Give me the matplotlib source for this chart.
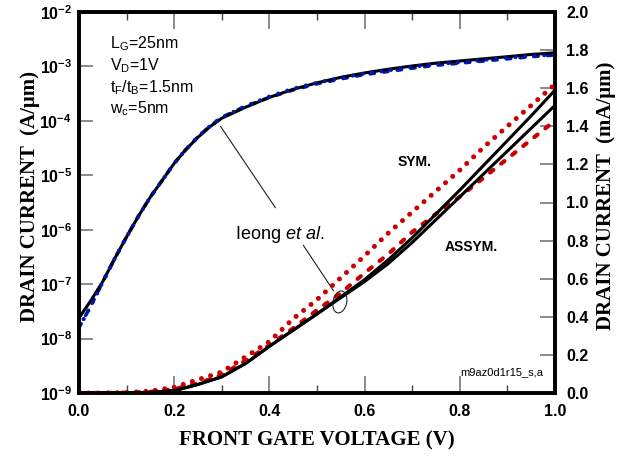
import matplotlib
matplotlib.use("Agg")
import matplotlib.pyplot as plt
from matplotlib.patches import Ellipse
from matplotlib.ticker import FixedLocator, FixedFormatter, MultipleLocator

plt.rcParams['font.family'] = ['Liberation Sans', 'DejaVu Sans']
plt.rcParams['mathtext.fontset'] = 'custom'
plt.rcParams['mathtext.rm'] = 'Liberation Sans'
plt.rcParams['mathtext.it'] = 'Liberation Sans:italic'
plt.rcParams['mathtext.bf'] = 'Liberation Sans:bold'

# ---------------- data ----------------
# gate voltage grid for log-scale curves (finer in the subthreshold knee)
vg_log = [0.0, 0.025, 0.05, 0.075, 0.10, 0.125, 0.15, 0.175, 0.20, 0.225, 0.25, 0.275, 0.30,
          0.35, 0.40, 0.45, 0.50, 0.55, 0.60, 0.65, 0.70, 0.75, 0.80, 0.85, 0.90, 0.95, 1.00]

# log scale (A/um)
model_log = [2.4e-8, 5.0e-8, 1.12e-7, 2.95e-7, 7.4e-7, 1.78e-6, 4.0e-6, 8.1e-6, 1.66e-5, 3.0e-5, 5.0e-5, 7.8e-5, 1.12e-4,
             1.78e-4, 2.7e-4, 3.8e-4, 5.0e-4, 6.3e-4, 7.6e-4, 8.9e-4, 1.02e-3, 1.15e-3, 1.26e-3, 1.38e-3, 1.51e-3, 1.66e-3, 1.78e-3]
ieong_sym_log = [1.6e-8, 4.0e-8, 1.1e-7, 2.95e-7, 7.4e-7, 1.78e-6, 4.0e-6, 8.1e-6, 1.66e-5, 3.0e-5, 5.1e-5, 8.0e-5, 1.16e-4,
                 1.86e-4, 2.8e-4, 3.9e-4, 5.0e-4, 6.2e-4, 7.4e-4, 8.5e-4, 9.8e-4, 1.1e-3, 1.2e-3, 1.32e-3, 1.45e-3, 1.55e-3, 1.66e-3]
ieong_asym_log = [1.6e-8, 4.0e-8, 1.1e-7, 2.95e-7, 7.4e-7, 1.78e-6, 4.0e-6, 8.1e-6, 1.66e-5, 3.0e-5, 5.1e-5, 8.0e-5, 1.16e-4,
                  1.86e-4, 2.7e-4, 3.7e-4, 4.8e-4, 5.9e-4, 7.1e-4, 8.1e-4, 9.3e-4, 1.05e-3, 1.15e-3, 1.26e-3, 1.38e-3, 1.51e-3, 1.62e-3]

# gate voltage grid for linear-scale curves
vg = [0.0, 0.05, 0.10, 0.15, 0.20, 0.25, 0.30, 0.35, 0.40, 0.45, 0.50,
      0.55, 0.60, 0.65, 0.70, 0.75, 0.80, 0.85, 0.90, 0.95, 1.00]

# linear scale (mA/um)
model_sym_lin = [0.0, 0.0, 0.0, 0.003, 0.012, 0.045, 0.085, 0.155, 0.245, 0.33, 0.415,
                 0.505, 0.595, 0.70, 0.815, 0.94, 1.065, 1.195, 1.325, 1.455, 1.59]
model_asym_lin = [0.0, 0.0, 0.0, 0.003, 0.012, 0.045, 0.085, 0.155, 0.245, 0.33, 0.415,
                  0.50, 0.585, 0.68, 0.79, 0.91, 1.03, 1.15, 1.27, 1.39, 1.51]
ieong_sym_lin = [0.0, 0.0, 0.002, 0.01, 0.03, 0.07, 0.11, 0.19, 0.27, 0.39, 0.49,
                 0.605, 0.72, 0.84, 0.95, 1.06, 1.17, 1.29, 1.40, 1.51, 1.62]
ieong_asym_lin = [0.0, 0.0, 0.002, 0.006, 0.02, 0.05, 0.095, 0.17, 0.25, 0.34, 0.435,
                  0.525, 0.63, 0.73, 0.845, 0.94, 1.03, 1.13, 1.23, 1.33, 1.43]

log_ticks = [1e-9, 1e-8, 1e-7, 1e-6, 1e-5, 1e-4, 1e-3, 1e-2]
log_tick_labels = [r'$\mathbf{10^{-9}}$', r'$\mathbf{10^{-8}}$', r'$\mathbf{10^{-7}}$', r'$\mathbf{10^{-6}}$',
                   r'$\mathbf{10^{-5}}$', r'$\mathbf{10^{-4}}$', r'$\mathbf{10^{-3}}$', r'$\mathbf{10^{-2}}$']
lin_ticks = [0.0, 0.2, 0.4, 0.6, 0.8, 1.0, 1.2, 1.4, 1.6, 1.8, 2.0]
x_ticks = [0.0, 0.2, 0.4, 0.6, 0.8, 1.0]

# ---------------- figure ----------------
fig = plt.figure(figsize=(6.29, 4.57), dpi=100)
ax = fig.add_axes([79/629, 1-393/457, 476/629, 381/457])
ax2 = ax.twinx()

RED = '#cc0000'
BLUE = '#0018b0'

ax.set_yscale('log')
ax.set_ylim(1e-9, 1e-2)
ax.set_xlim(0, 1.0)
ax2.set_ylim(0, 2.0)

# log curves
ax.plot(vg_log, ieong_asym_log, color=BLUE, lw=2.6, linestyle=(0, (1.2, 2.6)), dash_capstyle='round', zorder=3)
ax.plot(vg_log, model_log, color='black', lw=2.2, zorder=4)
ax.plot(vg_log, ieong_sym_log, color=BLUE, lw=3.0, linestyle=(0, (0.01, 2.3)), dash_capstyle='round', zorder=5)

# linear curves
ax2.plot(vg, ieong_sym_lin, color=RED, lw=3.6, linestyle=(0, (0.01, 1.9)), dash_capstyle='round', zorder=3)
ax2.plot(vg, ieong_asym_lin, color=RED, lw=3.0, linestyle=(0, (1.0, 2.4)), dash_capstyle='round', zorder=3)
ax2.plot(vg, model_sym_lin, color='black', lw=2.2, zorder=4)
ax2.plot(vg, model_asym_lin, color='black', lw=2.2, zorder=4)

# ticks
ax.yaxis.set_major_locator(FixedLocator(log_ticks))
ax.yaxis.set_major_formatter(FixedFormatter(log_tick_labels))
ax.yaxis.set_minor_locator(FixedLocator([]))
ax.set_xticks(x_ticks)
ax.set_xticklabels(['%.1f' % v for v in x_ticks])
ax.xaxis.set_minor_locator(MultipleLocator(0.1))
ax.tick_params(axis='y', which='major', direction='in', length=10, width=1.2, color='#777777',
               labelsize=11.5, pad=5)
ax.tick_params(axis='x', which='major', direction='in', length=12, width=1.2, color='#777777',
               top=True, labelsize=11.5, pad=8)
ax.tick_params(axis='x', which='minor', direction='in', length=6, width=1.0, color='#444444', top=True)
for lab in ax.get_xticklabels():
    lab.set_fontweight('bold')

ax2.set_yticks(lin_ticks)
ax2.set_yticklabels(['%.1f' % v for v in lin_ticks])
ax2.tick_params(axis='y', direction='in', length=11, width=1.2, color='#777777', labelsize=11.5, pad=8)
for lab in ax2.get_yticklabels():
    lab.set_fontweight('bold')

for a in (ax, ax2):
    for s in a.spines.values():
        s.set_linewidth(2.6)
        s.set_color('black')

# axis labels
fig.text(30/629, 1-196/457, 'DRAIN CURRENT  (A/\u03bcm)', rotation=90, ha='center', va='center',
         family='Liberation Serif', fontweight='bold', fontsize=15)
fig.text(606/629, 1-196/457, 'DRAIN CURRENT  (mA/\u03bcm)', rotation=90, ha='center', va='center',
         family='Liberation Serif', fontweight='bold', fontsize=15)
fig.text(317/629, 1-440/457, 'FRONT GATE VOLTAGE (V)', ha='center', va='center',
         family='Liberation Serif', fontweight='bold', fontsize=15)

# annotations
params = [r'L$_\mathrm{G}$=25nm', r'V$_\mathrm{D}$=1V', r't$_\mathrm{F}$/t$_\mathrm{B}$=1.5nm', r'w$_\mathrm{c}$=5nm']
param_y = [0.906, 0.848, 0.790, 0.735]
for t, yy in zip(params, param_y):
    ax.text(0.065, yy, t, transform=ax.transAxes, fontsize=11.5, va='baseline', ha='left')

ax.text(0.670, 0.596, 'SYM.', transform=ax.transAxes, fontsize=10, fontweight='bold', va='baseline')
ax.text(0.769, 0.373, 'ASSYM.', transform=ax.transAxes, fontsize=10, fontweight='bold', va='baseline')
ax.text(0.328, 0.415, r'Ieong $\mathit{et\ al.}$', transform=ax.transAxes, fontsize=13, va='center', ha='left')
ax.text(0.800, 0.047, 'm9az0d1r15_s,a', transform=ax.transAxes, fontsize=8, va='baseline', ha='left')

ax.annotate('', xy=(0.294, 0.706), xytext=(0.416, 0.480), xycoords='axes fraction',
            arrowprops=dict(arrowstyle='-', lw=0.8, color='#222222'))
ax.annotate('', xy=(0.538, 0.262), xytext=(0.468, 0.394), xycoords='axes fraction',
            arrowprops=dict(arrowstyle='-', lw=0.8, color='#222222'))
ax2.add_patch(Ellipse((0.548, 0.239), 0.029, 0.058, angle=-8, transform=ax.transAxes,
                      fill=False, lw=0.8, edgecolor='#222222', zorder=5))

fig.savefig('out.png', dpi=100)
